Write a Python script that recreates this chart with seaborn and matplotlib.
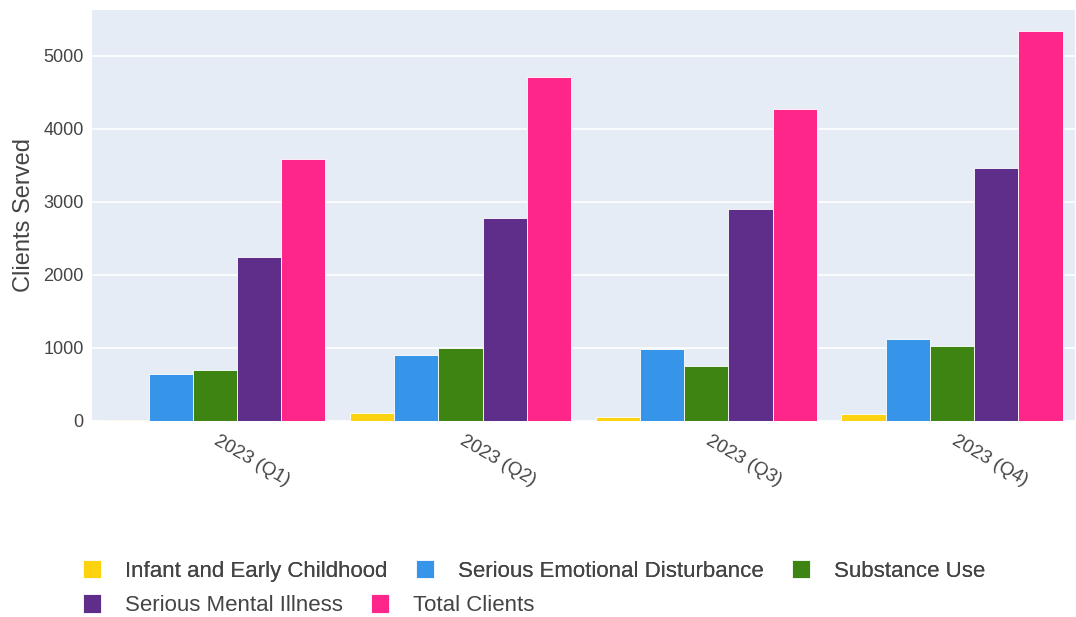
import matplotlib
matplotlib.use('Agg')
import matplotlib.pyplot as plt
import numpy as np
import pandas as pd
import seaborn as sns

quarters = ["2023 (Q1)", "2023 (Q2)", "2023 (Q3)", "2023 (Q4)"]
series = ["Infant and Early Childhood", "Serious Emotional Disturbance",
          "Substance Use", "Serious Mental Illness", "Total Clients"]
infant = [15, 115, 60, 102]
sed = [640, 902, 983, 1128]
substance = [700, 1000, 754, 1032]
smi = [2250, 2780, 2904, 3472]
total = [3585, 4718, 4272, 5348]
colors = ["#FDD20F", "#3795E9", "#3D8412", "#5E2E8A", "#FF268A"]

rows = []
for name, vals in zip(series, [infant, sed, substance, smi, total]):
    for q, v in zip(quarters, vals):
        rows.append({"Quarter": q, "Series": name, "Clients": v})
df = pd.DataFrame(rows)

sns.set_style("white")
plt.rcParams['font.family'] = ['Liberation Sans', 'DejaVu Sans']

fig = plt.figure(figsize=(10.76, 6.17), dpi=100)
ax = fig.add_axes([0.0855, 0.3177, 0.9135, 0.6661])
ax.set_facecolor("#E5ECF6")

sns.barplot(data=df, x="Quarter", y="Clients", hue="Series", hue_order=series,
            palette=colors, width=0.9, edgecolor="white", linewidth=0.6,
            saturation=1, ax=ax)

handles, labels = ax.get_legend_handles_labels()
ax.get_legend().remove()

ax.set_xlim(-0.5, 3.5)
ax.set_ylim(0, 5630)
ax.set_yticks([0, 1000, 2000, 3000, 4000, 5000])
ax.yaxis.grid(True, color="white", linewidth=1.2)
ax.set_axisbelow(True)
for s in ax.spines.values():
    s.set_visible(False)
ax.tick_params(axis="y", length=0, labelsize=13, pad=6)
ax.tick_params(axis="x", length=0, labelsize=13.5, pad=8)
plt.setp(ax.get_xticklabels(), rotation=-30, ha="left", rotation_mode="anchor")
# nudge the rotated labels a little to the right, like the reference
from matplotlib.transforms import ScaledTranslation
for t in ax.get_xticklabels():
    t.set_transform(t.get_transform() + ScaledTranslation(0.05, 0, fig.dpi_scale_trans))
for t in ax.get_yticklabels() + ax.get_xticklabels():
    t.set_color("#444444")
ax.set_xlabel("")
ax.set_ylabel("Clients Served", fontsize=17, color="#444444", labelpad=6)

leg_kw = dict(frameon=False, fontsize=16, handlelength=0.8, handleheight=0.9,
              handletextpad=1.08, columnspacing=1.3, labelcolor="#444444",
              borderaxespad=0, borderpad=0)
leg1 = fig.legend(handles[:3], labels[:3], ncol=3, loc="center left",
                  bbox_to_anchor=(0.077, 0.075), **leg_kw)
fig.add_artist(leg1)
fig.legend(handles[3:], labels[3:], ncol=2, loc="center left",
           bbox_to_anchor=(0.077, 0.019), **leg_kw)

plt.savefig("out.png", dpi=100)
